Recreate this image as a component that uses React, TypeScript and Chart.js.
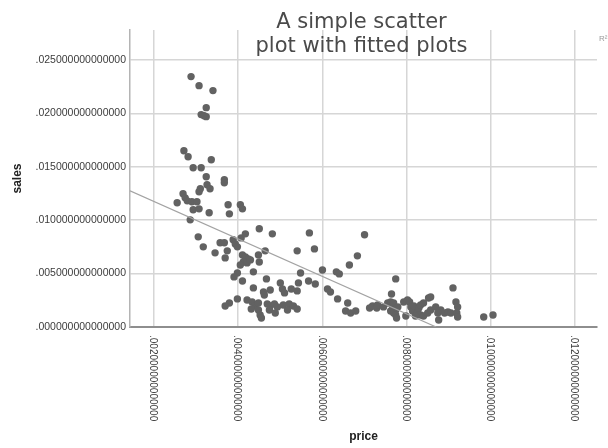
import { useEffect, useRef } from 'react';
import { Chart, registerables } from 'chart.js';

Chart.register(...registerables);

const prices = [
  0.00288, 0.00307, 0.0034, 0.00324, 0.00312, 0.00324, 0.00319, 0.00271, 0.00281, 0.00336,
  0.00293, 0.00312, 0.00324, 0.00367, 0.00367, 0.00326, 0.00333, 0.0031, 0.00307, 0.00269,
  0.00274, 0.00279, 0.00255, 0.0029, 0.00302, 0.00293, 0.00307, 0.00331, 0.00376, 0.00379,
  0.00405, 0.0041, 0.00286, 0.00305, 0.00317, 0.00345, 0.00357, 0.00367, 0.00374, 0.00369,
  0.00388, 0.00393, 0.00398, 0.00407, 0.00417, 0.0045, 0.00481, 0.00464, 0.00448, 0.0045,
  0.0041, 0.00417, 0.00424, 0.00412, 0.00405, 0.00421, 0.00429, 0.00436, 0.00398, 0.0039,
  0.0041, 0.00467, 0.00436, 0.0046, 0.00476, 0.005, 0.00505, 0.0051, 0.00526, 0.0054,
  0.00543, 0.00567, 0.00583, 0.00548, 0.006, 0.0054, 0.00581, 0.00569, 0.00612, 0.00619,
  0.00633, 0.0064, 0.00664, 0.00683, 0.007, 0.00636, 0.0066, 0.00655, 0.00667, 0.00679,
  0.00712, 0.00398, 0.00379, 0.00369, 0.00421, 0.00433, 0.0044, 0.00448, 0.00431, 0.00448,
  0.00452, 0.00455, 0.00469, 0.00476, 0.00486, 0.00474, 0.00493, 0.00507, 0.00521, 0.00531,
  0.0054, 0.00517, 0.00488, 0.00462, 0.00774, 0.00764, 0.00719, 0.00729, 0.00731, 0.00745,
  0.00755, 0.00762, 0.00767, 0.00769, 0.00774, 0.00779, 0.00762, 0.00769, 0.00774, 0.00776,
  0.00793, 0.00802, 0.00807, 0.0081, 0.00814, 0.00817, 0.00826, 0.00829, 0.00833, 0.0084,
  0.00852, 0.00857, 0.00833, 0.0084, 0.0085, 0.00857, 0.00869, 0.00881, 0.00874, 0.00876,
  0.0089, 0.00898, 0.00905, 0.0091, 0.00917, 0.00921, 0.00919, 0.00921, 0.00798, 0.00821,
  0.00983, 0.01005,
];

const sales = [
  0.02344, 0.02259, 0.02213, 0.02053, 0.01988, 0.01969, 0.01978, 0.0165, 0.01594, 0.01566,
  0.01491, 0.01491, 0.01406, 0.01378, 0.0135, 0.01331, 0.01294, 0.01294, 0.01266, 0.01247,
  0.01209, 0.01181, 0.01163, 0.01172, 0.01172, 0.01097, 0.01106, 0.01069, 0.01144, 0.01059,
  0.01144, 0.01106, 0.01003, 0.00844, 0.0075, 0.00694, 0.00788, 0.00788, 0.00713, 0.00647,
  0.00816, 0.00778, 0.0075, 0.00834, 0.00872, 0.00919, 0.00872, 0.00713, 0.00675, 0.00609,
  0.00675, 0.00656, 0.00638, 0.00609, 0.00581, 0.006, 0.00628, 0.00516, 0.00506, 0.00469,
  0.00431, 0.0045, 0.00366, 0.00328, 0.00347, 0.00413, 0.00356, 0.00319, 0.00356, 0.00338,
  0.00413, 0.00431, 0.00403, 0.00506, 0.00534, 0.00713, 0.00731, 0.00881, 0.00356, 0.00328,
  0.00516, 0.00497, 0.00581, 0.00666, 0.00863, 0.00263, 0.00225, 0.0015, 0.00131, 0.0015,
  0.00178, 0.00263, 0.00225, 0.00197, 0.00253, 0.00234, 0.00197, 0.00225, 0.00169, 0.00159,
  0.00113, 0.00084, 0.00216, 0.00197, 0.00216, 0.00159, 0.00188, 0.00206, 0.00216, 0.00197,
  0.00169, 0.00159, 0.00131, 0.003, 0.0045, 0.00309, 0.00197, 0.00178, 0.00206, 0.00188,
  0.00225, 0.00234, 0.00188, 0.00225, 0.00159, 0.00188, 0.0015, 0.00131, 0.00113, 0.00084,
  0.00234, 0.00253, 0.00234, 0.00188, 0.0015, 0.00197, 0.00141, 0.00178, 0.00206, 0.00225,
  0.00272, 0.00281, 0.00113, 0.00103, 0.00131, 0.00159, 0.00188, 0.00159, 0.00131, 0.00066,
  0.00131, 0.00141, 0.00131, 0.00366, 0.00234, 0.00188, 0.00131, 0.00094, 0.00103, 0.00103,
  0.00094, 0.00113,
];

const fitPrices = [0.00143, 0.0087];
const fitSales = [0.01275, 0];

const xTickValues = [0.002, 0.004, 0.006, 0.008, 0.01, 0.012];
const xTickLabels = [
  '.002000000000000',
  '.004000000000000',
  '.006000000000000',
  '.008000000000000',
  '.010000000000000',
  '.012000000000000',
];
const yTickValues = [0, 0.005, 0.01, 0.015, 0.02, 0.025];
const yTickLabels = [
  '.000000000000000',
  '.005000000000000',
  '.010000000000000',
  '.015000000000000',
  '.020000000000000',
  '.025000000000000',
];

const titleLines = ['A simple scatter', 'plot with fitted plots'];
const xTitle = 'price';
const yTitle = 'sales';
const fitNote = 'R² Linear = 0.417';

const X_MIN = 0.00143;
const X_MAX = 0.01252;
const Y_MIN = 0;
const Y_MAX = 0.0278;

const labelFont = '10px "Liberation Sans", Arial, sans-serif';

function findLabel(values: number[], labels: string[], v: number) {
  for (let i = 0; i < values.length; i++) {
    if (Math.abs(values[i] - v) < 1e-9) return labels[i];
  }
  return '';
}

const overlayPlugin = {
  id: 'overlay',
  afterDraw(chart: any) {
    const ctx = chart.ctx as CanvasRenderingContext2D;
    const xs = chart.scales.x;
    const area = chart.chartArea;
    ctx.save();
    // rotated x tick labels (reading top to bottom)
    ctx.fillStyle = '#3c3c3c';
    ctx.font = labelFont;
    ctx.textAlign = 'left';
    ctx.textBaseline = 'middle';
    xTickValues.forEach((v, i) => {
      const px = xs.getPixelForValue(v);
      ctx.save();
      ctx.translate(px - 1, area.bottom + 8);
      ctx.rotate(Math.PI / 2);
      ctx.fillText(xTickLabels[i], 0, 0);
      ctx.restore();
    });
    // title
    ctx.fillStyle = '#4a4a4a';
    ctx.font = '21px "DejaVu Sans", "Open Sans", sans-serif';
    ctx.textAlign = 'center';
    ctx.textBaseline = 'alphabetic';
    const cx = (area.left + area.right) / 2 - 2;
    ctx.fillText(titleLines[0], cx, 28);
    ctx.fillText(titleLines[1], cx, 52);
    // fit note at the right edge
    ctx.fillStyle = '#9a9a9a';
    ctx.font = '8px "Liberation Sans", Arial, sans-serif';
    ctx.textAlign = 'left';
    ctx.fillText(fitNote, 599, 41);
    ctx.restore();
  },
};

export default function App() {
  const canvasRef = useRef<HTMLCanvasElement | null>(null);

  useEffect(() => {
    if (!canvasRef.current) return;
    const chart = new Chart(canvasRef.current, {
      type: 'scatter',
      data: {
        datasets: [
          {
            type: 'line',
            label: 'Linear fit',
            data: fitPrices.map((p, i) => ({ x: p, y: fitSales[i] })),
            borderColor: '#a3a3a3',
            borderWidth: 1.2,
            pointRadius: 0,
            showLine: true,
            fill: false,
            order: 0,
          } as any,
          {
            label: 'sales',
            data: prices.map((p, i) => ({ x: p, y: sales[i] })),
            backgroundColor: '#626262',
            borderColor: '#626262',
            borderWidth: 0,
            pointRadius: 3.7,
            order: 1,
          },
        ],
      },
      options: {
        animation: false,
        responsive: true,
        maintainAspectRatio: false,
        layout: { padding: { top: 30, right: 11, left: 0, bottom: 0 } },
        plugins: {
          legend: { display: false },
          title: { display: false },
          tooltip: { enabled: false },
        },
        scales: {
          x: {
            type: 'linear',
            min: X_MIN,
            max: X_MAX,
            afterFit: (scale: any) => {
              scale.height = 121;
            },
            ticks: {
              stepSize: 0.002,
              includeBounds: false,
              display: false,
              callback: (v: any) => findLabel(xTickValues, xTickLabels, Number(v)),
            },
            grid: { color: '#d6d6d6', lineWidth: 1.5, drawTicks: false },
            border: { display: true, color: '#8e8e8e', width: 2 },
            title: {
              display: true,
              text: xTitle,
              color: '#222',
              font: { family: '"Liberation Sans", Arial, sans-serif', size: 12, weight: 'bold' },
              padding: { top: 0, bottom: 4 },
            },
          },
          y: {
            type: 'linear',
            min: Y_MIN,
            max: Y_MAX,
            afterFit: (scale: any) => {
              scale.width = 130;
            },
            ticks: {
              stepSize: 0.005,
              includeBounds: false,
              padding: 4,
              color: '#3c3c3c',
              font: { family: '"Liberation Sans", Arial, sans-serif', size: 10.5 },
              callback: (v: any) => findLabel(yTickValues, yTickLabels, Number(v)),
            },
            grid: { color: '#d6d6d6', lineWidth: 1.5, drawTicks: false },
            border: { display: true, color: '#b4b4b4', width: 1.5 },
            title: {
              display: true,
              text: yTitle,
              color: '#222',
              font: { family: '"Liberation Sans", Arial, sans-serif', size: 12, weight: 'bold' },
              padding: { top: 10, bottom: 0 },
            },
          },
        },
      },
      plugins: [overlayPlugin],
    });
    return () => chart.destroy();
  }, []);

  return (
    <div style={{ position: 'fixed', left: 0, top: 0, width: 608, height: 448, background: '#fff' }}>
      <canvas ref={canvasRef} />
    </div>
  );
}
